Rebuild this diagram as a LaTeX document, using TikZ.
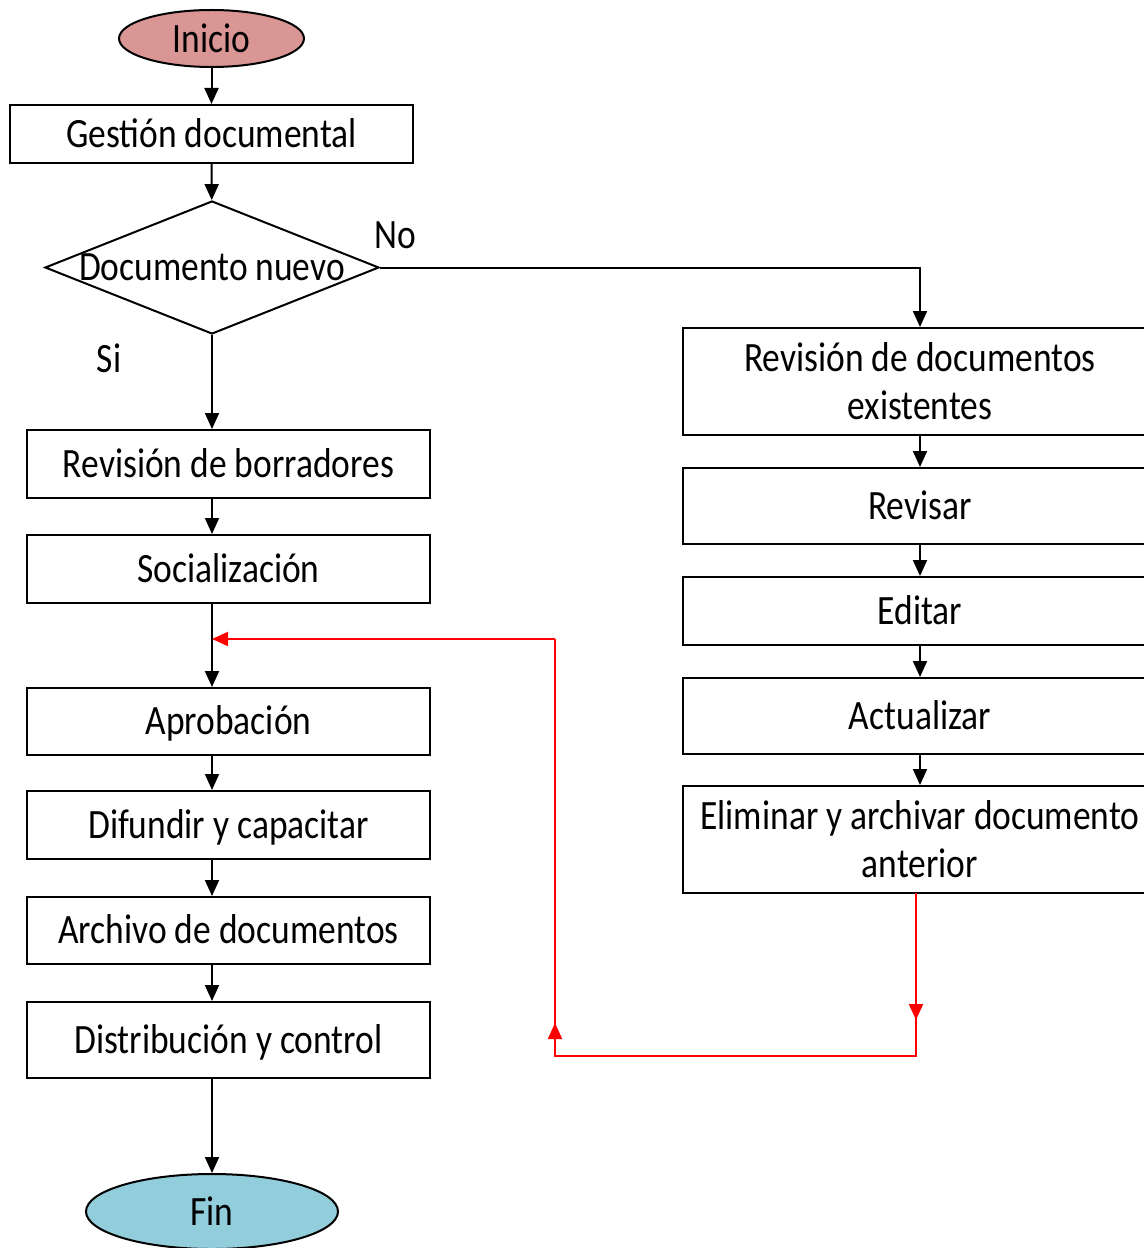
\documentclass[tikz,border=0pt]{standalone}
\usepackage{fontspec}
\setmainfont{Carlito}[FakeStretch=0.85]
\usetikzlibrary{arrows.meta,shapes.geometric}
\definecolor{startfill}{RGB}{217,150,148}
\definecolor{endfill}{RGB}{146,205,220}
\def\pxl{0.75pt}
\begin{document}
\begin{tikzpicture}[x=0.75pt,y=-0.75pt,
  every node/.style={font=\fontsize{31.3}{36}\selectfont, inner sep=0pt},
  flowbox/.style={draw, line width=1.5pt, rectangle, align=center,
    text height=20pt, text depth=0pt},
  twoline/.style={text height=, text depth=},
  lbox/.style={flowbox, minimum width=403*\pxl},
  rbox/.style={flowbox, minimum width=474*\pxl},
  term/.style={draw, line width=1.5pt, ellipse},
  decision/.style={draw, line width=1.5pt, diamond},
  arr/.style={line width=1.5pt, -{Triangle[length=12pt,width=10.5pt]}},
  redl/.style={line width=1.5pt, red},
  redarr/.style={redl, -{Triangle[length=12pt,width=10.5pt]}}
]
\useasboundingbox (0,0) rectangle (1144,1248);
\clip (0,0) rectangle (1144,1248);

% terminals
\node[term, fill=startfill, minimum width=185*\pxl, minimum height=57*\pxl] (ini) at (211.5,38.5) {\makebox[0pt]{Inicio}};
\node[term, fill=endfill, minimum width=252*\pxl, minimum height=75*\pxl] (fin) at (212,1211.5) {\makebox[0pt]{\raisebox{-3pt}{Fin}}};

% main column
\node[flowbox, minimum width=403*\pxl, minimum height=58*\pxl] (ges) at (211.5,134) {Gestión documental};
\node[decision, minimum width=334*\pxl, minimum height=133*\pxl] (dec) at (212,267.5) {\makebox[0pt]{Documento nuevo}};
\node[lbox, minimum height=68*\pxl] (borr) at (228.5,464) {Revisión de borradores};
\node[lbox, minimum height=68*\pxl] (soc)  at (228.5,569) {Socialización};
\node[lbox, minimum height=67*\pxl] (apr)  at (228.5,721.5) {Aprobación};
\node[lbox, minimum height=68*\pxl] (dif)  at (228.5,825) {Difundir y capacitar};
\node[lbox, minimum height=67*\pxl] (arc)  at (228.5,930.5) {Archivo de documentos};
\node[lbox, minimum height=76*\pxl] (dis)  at (228.5,1040) {Distribución y control};

% branch for existing documents
\node[rbox, twoline, minimum height=107*\pxl] (rev) at (920,381.5) {Revisión de documentos\\existentes};
\node[rbox, minimum height=76*\pxl]  (rvs) at (920,506) {Revisar};
\node[rbox, minimum height=68*\pxl]  (edi) at (920,611) {Editar};
\node[rbox, minimum height=76*\pxl]  (act) at (920,716) {Actualizar};
\node[rbox, twoline, minimum height=107*\pxl] (eli) at (920,839.5) {Eliminar y archivar documento\\anterior};

% branch labels
\node (no) at (395,235) {No};
\node (si) at (109,358) {Si};

% main flow connectors
\draw[arr] (ini) -- (ges);
\draw[arr] (ges) -- (dec);
\draw[arr] (dec.south) -- (dec.south |- borr.north);
\draw[arr] (dec.south |- borr.south) -- (dec.south |- soc.north);
\draw[arr] (dec.south |- soc.south) -- (dec.south |- apr.north);
\draw[arr] (dec.south |- apr.south) -- (dec.south |- dif.north);
\draw[arr] (dec.south |- dif.south) -- (dec.south |- arc.north);
\draw[arr] (dec.south |- arc.south) -- (dec.south |- dis.north);
\draw[arr] (dec.south |- dis.south) -- (fin);

% "No" branch connectors
\draw[arr] (dec.east) -| (rev.north);
\draw[arr] (rev) -- (rvs);
\draw[arr] (rvs) -- (edi);
\draw[arr] (edi) -- (act);
\draw[arr] (act) -- (eli);

% return path to approval
\coordinate (eo) at (916,893);
\coordinate (dn) at (916,1020);
\coordinate (rb) at (916,1056);
\coordinate (lb) at (555,1056);
\coordinate (up) at (555,1023);
\coordinate (lt) at (555,639);
\coordinate (jn) at (212,639);
\draw[redl] (eo) -- (rb) -- (lb) -- (lt);
\draw[redarr] (eo) -- (dn);
\draw[redarr] (lb) -- (up);
\draw[redarr] (lt) -- (jn);
\end{tikzpicture}
\end{document}
